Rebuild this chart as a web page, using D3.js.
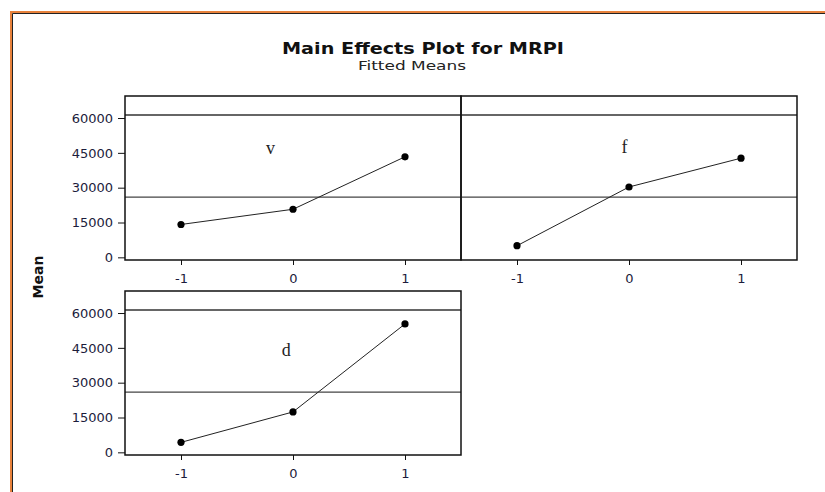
<!DOCTYPE html>
<html>
<head>
<meta charset="utf-8">
<script src="https://cdn.jsdelivr.net/npm/d3@7"></script>
<style>
	body { margin: 0; background: #fff; }
	svg { display: block; }
	.tick text { font-family: "DejaVu Sans", Verdana, sans-serif; font-size: 13px; fill: #1c1c3c; }
	.axis path, .axis line { stroke: #111; }
</style>
</head>
<body>
<div id="chart"></div>
<script>
	"use strict";

	// factor levels and fitted means
	var levels = [-1, 0, 1];
	var factors = ["v", "f", "d"];
	var meansV = [14150, 20700, 43300];
	var meansF = [5000, 30300, 42700];
	var meansD = [4300, 17400, 55300];
	var yTicks = [0, 15000, 30000, 45000, 60000];

	var series = [meansV, meansF, meansD];
	var grandMean = d3.mean([].concat(meansV, meansF, meansD));

	var width = 825, height = 492;
	var panel = {width: 336, height: 164, strip: 19};
	// grid slots (col, row) for each factor, and where the factor name sits
	var slots = [
		{col: 0, row: 0, label: [-0.2, 44600]},
		{col: 1, row: 0, label: [-0.04, 45000]},
		{col: 0, row: 1, label: [-0.06, 41700]}
	];
	var origin = {left: 125, top: 96, rowGap: 31};

	var svg = d3.select("#chart").append("svg")
		.attr("width", width)
		.attr("height", height);

	// orange screenshot frame
	svg.append("path")
		.attr("d", "M11," + height + "V12H" + width)
		.attr("fill", "none")
		.attr("stroke", "#e8823c")
		.attr("stroke-width", 2);
	svg.append("path")
		.attr("d", "M12.5," + height + "V13.5H" + width)
		.attr("fill", "none")
		.attr("stroke", "#222")
		.attr("stroke-width", 1);

	svg.append("text")
		.attr("x", 423)
		.attr("y", 54)
		.attr("text-anchor", "middle")
		.attr("textLength", 282)
		.attr("lengthAdjust", "spacingAndGlyphs")
		.style("font-family", "'DejaVu Sans', Tahoma, sans-serif")
		.style("font-weight", "bold")
		.style("font-size", "16px")
		.style("fill", "#111")
		.text("Main Effects Plot for MRPI");

	svg.append("text")
		.attr("x", 412)
		.attr("y", 70)
		.attr("text-anchor", "middle")
		.attr("textLength", 108)
		.attr("lengthAdjust", "spacingAndGlyphs")
		.style("font-family", "'DejaVu Sans', Tahoma, sans-serif")
		.style("font-size", "13px")
		.style("fill", "#222")
		.text("Fitted Means");

	svg.append("text")
		.attr("transform", "translate(43,277) rotate(-90)")
		.attr("text-anchor", "middle")
		.style("font-family", "'DejaVu Sans', Tahoma, sans-serif")
		.style("font-weight", "bold")
		.style("font-size", "14px")
		.style("fill", "#111")
		.text("Mean");

	var x = d3.scaleLinear()
		.domain([-1.5, 1.5])
		.range([0, panel.width]);

	var y = d3.scaleLinear()
		.domain([-1150, 61300])
		.range([panel.height, panel.strip]);

	var line = d3.line()
		.x(function(d, i) { return x(levels[i]); })
		.y(function(d) { return y(d); });

	// plain hyphen for negatives, like the original
	var plain = function(d) { return String(d); };

	factors.forEach(function(name, k) {
		var slot = slots[k];
		var g = svg.append("g")
			.attr("transform", "translate(" + (origin.left + slot.col * panel.width) + "," +
				(origin.top + slot.row * (panel.height + origin.rowGap)) + ")");

		// y axis only on the first column
		if (slot.col === 0) {
			g.append("g")
				.attr("class", "axis")
				.call(d3.axisLeft(y).tickValues(yTicks).tickSize(7).tickPadding(5).tickFormat(plain))
				.call(function(a) { a.select(".domain").remove(); });
		}

		g.append("g")
			.attr("class", "axis")
			.attr("transform", "translate(0," + panel.height + ")")
			.call(d3.axisBottom(x).tickValues(levels).tickSize(5).tickPadding(9).tickFormat(plain))
			.call(function(a) { a.select(".domain").remove(); });

		// grand mean reference line
		g.append("line")
			.attr("x1", 0)
			.attr("x2", panel.width)
			.attr("y1", y(grandMean))
			.attr("y2", y(grandMean))
			.attr("stroke", "#444")
			.attr("stroke-width", 1.2);

		// strip divider
		g.append("line")
			.attr("x1", 0)
			.attr("x2", panel.width)
			.attr("y1", panel.strip)
			.attr("y2", panel.strip)
			.attr("stroke", "#333")
			.attr("stroke-width", 1.5);

		g.append("rect")
			.attr("width", panel.width)
			.attr("height", panel.height)
			.attr("fill", "none")
			.attr("stroke", "#111")
			.attr("stroke-width", 1.5);

		g.append("path")
			.datum(series[k])
			.attr("d", line)
			.attr("fill", "none")
			.attr("stroke", "#222")
			.attr("stroke-width", 1);

		g.selectAll("circle")
			.data(series[k])
			.enter().append("circle")
			.attr("cx", function(d, i) { return x(levels[i]); })
			.attr("cy", function(d) { return y(d); })
			.attr("r", 3.6)
			.attr("fill", "#000");

		g.append("text")
			.attr("x", x(slot.label[0]))
			.attr("y", y(slot.label[1]))
			.attr("text-anchor", "middle")
			.style("font-family", "'Liberation Serif', 'Times New Roman', serif")
			.style("font-size", "18px")
			.style("fill", "#222")
			.text(name);
	});
</script>
</body>
</html>
